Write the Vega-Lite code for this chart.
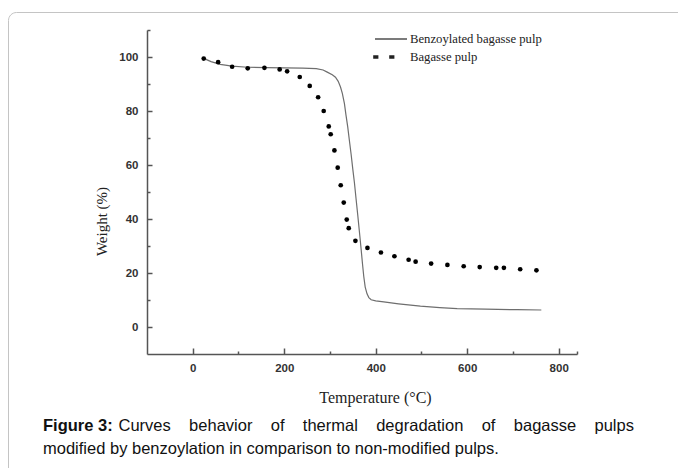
{
  "$schema": "https://vega.github.io/schema/vega-lite/v6.json",
  "width": 430,
  "height": 324,
  "autosize": "none",
  "padding": {"left": 147, "top": 30, "right": 101, "bottom": 114},
  "background": "white",
  "config": {"view": {"stroke": null}},
  "title": {
    "text": "Figure 3:",
    "subtitle": "modified by benzoylation in comparison to non-modified pulps.",
    "orient": "bottom",
    "anchor": "start",
    "frame": "group",
    "dx": -104,
    "offset": -276,
    "font": "Liberation Sans",
    "fontSize": 16.5,
    "fontWeight": "bold",
    "color": "#111",
    "subtitleFont": "Liberation Sans",
    "subtitleFontSize": 16.5,
    "subtitleFontWeight": "normal",
    "subtitleColor": "#111",
    "subtitleLineHeight": 23,
    "subtitlePadding": 7
  },
  "data": {
    "values": [
      {"series": "Benzoylated bagasse pulp", "T": 24, "W": 99.5},
      {"series": "Benzoylated bagasse pulp", "T": 40, "W": 98.3},
      {"series": "Benzoylated bagasse pulp", "T": 60, "W": 97.3},
      {"series": "Benzoylated bagasse pulp", "T": 86, "W": 96.6},
      {"series": "Benzoylated bagasse pulp", "T": 120, "W": 96.2},
      {"series": "Benzoylated bagasse pulp", "T": 160, "W": 96.1},
      {"series": "Benzoylated bagasse pulp", "T": 200, "W": 96.0},
      {"series": "Benzoylated bagasse pulp", "T": 240, "W": 95.9},
      {"series": "Benzoylated bagasse pulp", "T": 270, "W": 95.7},
      {"series": "Benzoylated bagasse pulp", "T": 285, "W": 95.2},
      {"series": "Benzoylated bagasse pulp", "T": 294, "W": 94.4},
      {"series": "Benzoylated bagasse pulp", "T": 305, "W": 93.4},
      {"series": "Benzoylated bagasse pulp", "T": 312, "W": 92.5},
      {"series": "Benzoylated bagasse pulp", "T": 318, "W": 91.0},
      {"series": "Benzoylated bagasse pulp", "T": 323, "W": 88.9},
      {"series": "Benzoylated bagasse pulp", "T": 327, "W": 86.5},
      {"series": "Benzoylated bagasse pulp", "T": 331.6, "W": 82.7},
      {"series": "Benzoylated bagasse pulp", "T": 335, "W": 78.5},
      {"series": "Benzoylated bagasse pulp", "T": 338.8, "W": 74.1},
      {"series": "Benzoylated bagasse pulp", "T": 342.5, "W": 69.0},
      {"series": "Benzoylated bagasse pulp", "T": 346.2, "W": 64.0},
      {"series": "Benzoylated bagasse pulp", "T": 350, "W": 58.3},
      {"series": "Benzoylated bagasse pulp", "T": 353.4, "W": 53.5},
      {"series": "Benzoylated bagasse pulp", "T": 357, "W": 47.5},
      {"series": "Benzoylated bagasse pulp", "T": 360.7, "W": 41.5},
      {"series": "Benzoylated bagasse pulp", "T": 364.5, "W": 35.0},
      {"series": "Benzoylated bagasse pulp", "T": 368, "W": 29.0},
      {"series": "Benzoylated bagasse pulp", "T": 371, "W": 23.5},
      {"series": "Benzoylated bagasse pulp", "T": 373.8, "W": 18.8},
      {"series": "Benzoylated bagasse pulp", "T": 377, "W": 14.8},
      {"series": "Benzoylated bagasse pulp", "T": 381, "W": 12.3},
      {"series": "Benzoylated bagasse pulp", "T": 385, "W": 10.9},
      {"series": "Benzoylated bagasse pulp", "T": 390, "W": 10.1},
      {"series": "Benzoylated bagasse pulp", "T": 400, "W": 9.7},
      {"series": "Benzoylated bagasse pulp", "T": 417.5, "W": 9.3},
      {"series": "Benzoylated bagasse pulp", "T": 450, "W": 8.6},
      {"series": "Benzoylated bagasse pulp", "T": 497.7, "W": 7.7},
      {"series": "Benzoylated bagasse pulp", "T": 540, "W": 7.2},
      {"series": "Benzoylated bagasse pulp", "T": 578, "W": 6.8},
      {"series": "Benzoylated bagasse pulp", "T": 640, "W": 6.6},
      {"series": "Benzoylated bagasse pulp", "T": 709, "W": 6.4},
      {"series": "Benzoylated bagasse pulp", "T": 762, "W": 6.3},
      {"series": "Bagasse pulp", "T": 24.0, "W": 99.4},
      {"series": "Bagasse pulp", "T": 55.5, "W": 98.1},
      {"series": "Bagasse pulp", "T": 86.1, "W": 96.4},
      {"series": "Bagasse pulp", "T": 120.2, "W": 95.8},
      {"series": "Bagasse pulp", "T": 156.7, "W": 96.0},
      {"series": "Bagasse pulp", "T": 190.0, "W": 95.4},
      {"series": "Bagasse pulp", "T": 206.3, "W": 94.7},
      {"series": "Bagasse pulp", "T": 233.9, "W": 92.6},
      {"series": "Bagasse pulp", "T": 255.7, "W": 89.3},
      {"series": "Bagasse pulp", "T": 274.1, "W": 85.1},
      {"series": "Bagasse pulp", "T": 286.3, "W": 80.0},
      {"series": "Bagasse pulp", "T": 297.3, "W": 74.3},
      {"series": "Bagasse pulp", "T": 301.6, "W": 71.4},
      {"series": "Bagasse pulp", "T": 309.7, "W": 65.4},
      {"series": "Bagasse pulp", "T": 316.9, "W": 59.0},
      {"series": "Bagasse pulp", "T": 323.5, "W": 52.5},
      {"series": "Bagasse pulp", "T": 330.1, "W": 46.1},
      {"series": "Bagasse pulp", "T": 336.6, "W": 39.8},
      {"series": "Bagasse pulp", "T": 341.0, "W": 36.6},
      {"series": "Bagasse pulp", "T": 355.6, "W": 31.9},
      {"series": "Bagasse pulp", "T": 381.9, "W": 29.3},
      {"series": "Bagasse pulp", "T": 411.4, "W": 27.6},
      {"series": "Bagasse pulp", "T": 440.9, "W": 26.2},
      {"series": "Bagasse pulp", "T": 471.9, "W": 24.9},
      {"series": "Bagasse pulp", "T": 487.2, "W": 24.2},
      {"series": "Bagasse pulp", "T": 521.1, "W": 23.5},
      {"series": "Bagasse pulp", "T": 556.7, "W": 23.0},
      {"series": "Bagasse pulp", "T": 592.3, "W": 22.5},
      {"series": "Bagasse pulp", "T": 627.3, "W": 22.2},
      {"series": "Bagasse pulp", "T": 663.4, "W": 21.9},
      {"series": "Bagasse pulp", "T": 680.2, "W": 21.9},
      {"series": "Bagasse pulp", "T": 715.8, "W": 21.4},
      {"series": "Bagasse pulp", "T": 751.3, "W": 21.0}
    ]
  },
  "encoding": {
    "y": {
      "field": "W", "type": "quantitative",
      "scale": {"domain": [-10, 110], "nice": false, "zero": false},
      "axis": {
        "title": "Weight (%)",
        "titleFont": "Liberation Serif", "titleFontSize": 15, "titleFontWeight": "normal", "titleColor": "#222",
        "titleY": 191, "titlePadding": 9,
        "values": [0, 10, 20, 30, 40, 50, 60, 70, 80, 90, 100, 110],
        "labelExpr": "datum.value % 20 === 0 && datum.value <= 100 ? datum.label : ''",
        "labelFont": "Liberation Sans", "labelFontSize": 11.5, "labelFontWeight": "bold", "labelColor": "#333",
        "labelPadding": 14,
        "grid": false,
        "domainColor": "#555", "domainWidth": 1.5,
        "tickColor": "#555", "tickWidth": 1.5,
        "tickSize": {"condition": {"test": "datum.value % 20 === 0 && datum.value <= 100", "value": -5}, "value": -3}
      }
    }
  },
  "layer": [
    {
      "encoding": {
        "x": {
          "field": "T", "type": "quantitative",
          "scale": {"domain": [-100, 840], "nice": false, "zero": false},
          "axis": {
            "orient": "bottom",
            "title": "Temperature (°C)",
            "titleFont": "Liberation Serif", "titleFontSize": 16, "titleFontWeight": "normal", "titleColor": "#222",
            "titleX": 228, "titlePadding": 16,
            "values": [0, 100, 200, 300, 400, 500, 600, 700, 800, 840],
            "labelExpr": "datum.value % 200 === 0 && datum.value <= 800 ? datum.label : ''",
            "labelFont": "Liberation Sans", "labelFontSize": 11.5, "labelFontWeight": "bold", "labelColor": "#333",
            "labelPadding": 14,
            "grid": false,
            "domainColor": "#555", "domainWidth": 1.5,
            "tickColor": "#555", "tickWidth": 1.5,
            "tickSize": {"condition": {"test": "datum.value % 200 === 0 && datum.value <= 800", "value": -6}, "value": -3}
          }
        }
      },
      "layer": [
        {
          "transform": [{"filter": "datum.series === 'Benzoylated bagasse pulp'"}],
          "mark": {"type": "line", "color": "#6e6e6e", "strokeWidth": 1.2},
          "encoding": {}
        },
        {
          "transform": [{"filter": "datum.series === 'Bagasse pulp'"}],
          "mark": {"type": "point", "filled": true, "color": "#000", "size": 22, "opacity": 1},
          "encoding": {}
        }
      ]
    },
    {
      "transform": [{"filter": "false"}],
      "mark": {"type": "point", "filled": false, "color": "#444", "size": 256, "strokeWidth": 1.2, "opacity": 1},
      "encoding": {
        "x": {
          "field": "T", "type": "quantitative",
          "scale": {"domain": [-100, 840], "nice": false, "zero": false},
          "axis": {
            "orient": "top",
            "domain": false, "ticks": false, "labels": false, "grid": false,
            "title": "Curves\u00a0\u00a0\u00a0\u00a0behavior\u00a0\u00a0\u00a0\u00a0of\u00a0\u00a0\u00a0\u00a0thermal\u00a0\u00a0\u00a0\u00a0degradation\u00a0\u00a0\u00a0\u00a0of\u00a0\u00a0\u00a0\u00a0bagasse\u00a0\u00a0\u00a0\u00a0pulps",
            "titleX": -29, "titleY": 400.5,
            "titleAlign": "left", "titleBaseline": "alphabetic", "titleAngle": 0,
            "titleLimit": 1000,
            "titleFont": "Liberation Sans", "titleFontSize": 16.5, "titleFontWeight": "normal", "titleColor": "#111"
          }
        },
        "shape": {
          "field": "series", "type": "nominal",
          "scale": {
            "domain": ["Benzoylated bagasse pulp", "Bagasse pulp"],
            "range": ["M-3,0H1", "M-3.15,-0.15H-2.65V0.15H-3.15ZM-3.1,0H-2.7M-1.15,-0.15H-0.65V0.15H-1.15ZM-1.1,0H-0.7"]
          },
          "legend": {
            "title": null,
            "orient": "none",
            "legendX": 243,
            "legendY": 0,
            "padding": 0,
            "symbolSize": 256,
            "symbolStrokeWidth": 1.2,
            "symbolStrokeColor": "#222",
            "symbolOpacity": 1,
            "labelOffset": 2,
            "rowPadding": 2,
            "labelFont": "Liberation Serif",
            "labelFontSize": 12.7,
            "labelColor": "#222"
          }
        },
        "strokeWidth": {
          "field": "T", "type": "quantitative",
          "legend": {
            "title": null,
            "orient": "none",
            "legendX": -139,
            "legendY": -18,
            "padding": 340,
            "strokeColor": "#c4c4c4",
            "cornerRadius": 8,
            "values": [100],
            "symbolSize": 1,
            "labelFontSize": 1,
            "symbolOpacity": 0,
            "labelOpacity": 0
          }
        }
      }
    }
  ],
  "resolve": {"axis": {"x": "independent"}}
}
